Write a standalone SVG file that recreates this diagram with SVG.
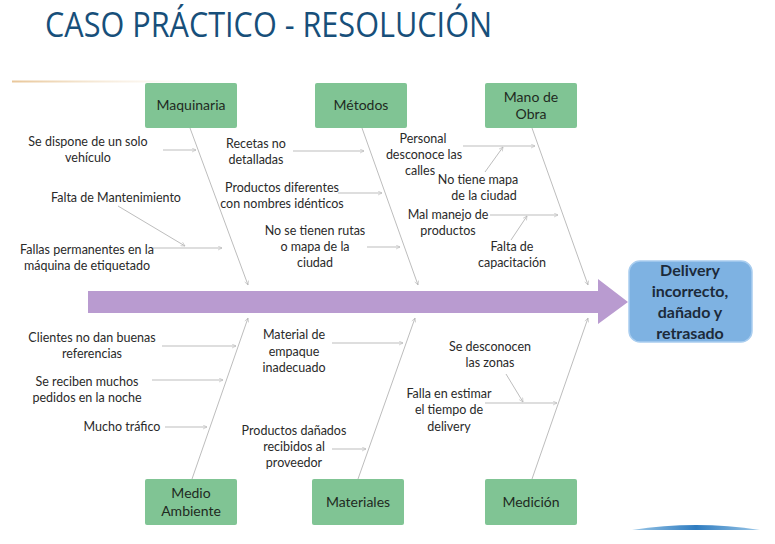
<svg xmlns="http://www.w3.org/2000/svg" width="775" height="544" viewBox="0 0 775 544">
<defs>
<marker id="ah" viewBox="0 0 10 10" refX="9" refY="5" markerWidth="5" markerHeight="5" orient="auto-start-reverse" markerUnits="userSpaceOnUse">
<path d="M1,1 L9,5 L1,9" fill="none" stroke="#b8b8b8" stroke-width="1.2"/>
</marker>
<linearGradient id="topline" x1="0" x2="1" y1="0" y2="0">
<stop offset="0" stop-color="#e9c79a"/>
<stop offset="0.3" stop-color="#f3e3cc"/>
<stop offset="1" stop-color="#ffffff" stop-opacity="0"/>
</linearGradient>
<linearGradient id="blueArc" x1="0" x2="1" y1="0" y2="0">
<stop offset="0" stop-color="#9cc8e8"/>
<stop offset="0.5" stop-color="#2f7cc0"/>
<stop offset="1" stop-color="#9cc8e8"/>
</linearGradient>
</defs>
<style>
.title{font-family:"Open Sans","Liberation Sans",sans-serif;font-size:35px;fill:#174f7a;}
.lbl{font-family:Lato,"Liberation Sans",sans-serif;font-size:12.5px;fill:#2a2a2a;text-anchor:middle;}
.box{fill:#80c494;}
.btxt{font-family:Lato,"Liberation Sans",sans-serif;font-size:14px;fill:#1f2a22;text-anchor:middle;}
.head{fill:#7eb2e2;stroke:#a9cdef;stroke-width:1.5;}
.htxt{font-family:Lato,"Liberation Sans",sans-serif;font-size:16px;font-weight:bold;fill:#1c2a3a;text-anchor:middle;}
.ln{stroke:#bdbdbd;stroke-width:1;fill:none;marker-end:url(#ah);}
</style>
<rect width="775" height="544" fill="#ffffff"/>
<text class="title" x="45" y="37" textLength="447" lengthAdjust="spacingAndGlyphs">CASO PRÁCTICO - RESOLUCIÓN</text>
<rect x="12" y="80.5" width="220" height="2" fill="url(#topline)"/>
<path d="M632,530 Q696,520 760,530 Z" fill="url(#blueArc)"/>

<g id="spine">
<polygon points="88,291 598,291 598,279 628,302 598,324 598,313 88,313" fill="#b99bd0"/>
</g>

<g id="connectors">
<line class="ln" x1="190" y1="128" x2="248" y2="285"/>
<line class="ln" x1="362" y1="128" x2="418" y2="285"/>
<line class="ln" x1="532" y1="128" x2="588" y2="285"/>
<line class="ln" x1="192" y1="479" x2="248" y2="318"/>
<line class="ln" x1="358" y1="479" x2="415" y2="318"/>
<line class="ln" x1="532" y1="479" x2="588" y2="318"/>
<line class="ln" x1="163" y1="150" x2="196" y2="150"/>
<line class="ln" x1="118" y1="206" x2="185" y2="246"/>
<line class="ln" x1="153" y1="248" x2="222" y2="248"/>
<line class="ln" x1="293" y1="151" x2="364" y2="151"/>
<line class="ln" x1="338" y1="193" x2="382" y2="193"/>
<line class="ln" x1="367" y1="247" x2="400" y2="247"/>
<line class="ln" x1="463" y1="146" x2="535" y2="146"/>
<line class="ln" x1="485" y1="172" x2="503" y2="147"/>
<line class="ln" x1="490" y1="215" x2="558" y2="215"/>
<line class="ln" x1="511" y1="240" x2="527" y2="216"/>
<line class="ln" x1="162" y1="346" x2="236" y2="346"/>
<line class="ln" x1="152" y1="380" x2="223" y2="380"/>
<line class="ln" x1="165" y1="427" x2="207" y2="427"/>
<line class="ln" x1="332" y1="343" x2="403" y2="343"/>
<line class="ln" x1="332" y1="449" x2="366" y2="449"/>
<line class="ln" x1="485" y1="403" x2="557" y2="403"/>
<line class="ln" x1="506" y1="374" x2="523" y2="402"/>
</g>

<g id="maquinaria"><rect class="box" x="145" y="83" width="92" height="45" rx="2"/><text class="btxt" x="191" y="110">Maquinaria</text></g>
<g id="metodos"><rect class="box" x="315" y="83" width="92" height="45" rx="2"/><text class="btxt" x="361" y="110">Métodos</text></g>
<g id="mano-de-obra"><rect class="box" x="485" y="83" width="92" height="45" rx="2"/><text class="btxt" x="531" y="102">Mano de</text><text class="btxt" x="531" y="119">Obra</text></g>
<g id="medio-ambiente"><rect class="box" x="145" y="479" width="92" height="46" rx="2"/><text class="btxt" x="191" y="498">Medio</text><text class="btxt" x="191" y="516">Ambiente</text></g>
<g id="materiales"><rect class="box" x="312" y="479" width="92" height="46" rx="2"/><text class="btxt" x="358" y="507">Materiales</text></g>
<g id="medicion"><rect class="box" x="485" y="479" width="92" height="46" rx="2"/><text class="btxt" x="531" y="507">Medición</text></g>

<g id="efecto"><rect class="head" x="629" y="261" width="123" height="81" rx="11"/>
<text class="htxt" x="690" y="276">Delivery</text>
<text class="htxt" x="690" y="297">incorrecto,</text>
<text class="htxt" x="690" y="318">dañado y</text>
<text class="htxt" x="690" y="339">retrasado</text></g>

<g id="causas-maquinaria">
<text class="lbl" x="88" y="146">Se dispone de un solo</text>
<text class="lbl" x="88" y="162">vehículo</text>
<text class="lbl" x="116" y="202">Falta de Mantenimiento</text>
<text class="lbl" x="87" y="254">Fallas permanentes en la</text>
<text class="lbl" x="87" y="270">máquina de etiquetado</text>
</g>
<g id="causas-metodos">
<text class="lbl" x="256" y="148">Recetas no</text>
<text class="lbl" x="256" y="164">detalladas</text>
<text class="lbl" x="282" y="192">Productos diferentes</text>
<text class="lbl" x="282" y="208">con nombres idénticos</text>
<text class="lbl" x="315" y="235">No se tienen rutas</text>
<text class="lbl" x="315" y="251">o mapa de la</text>
<text class="lbl" x="315" y="267">ciudad</text>
</g>
<g id="causas-mano-de-obra">
<text class="lbl" x="423" y="143">Personal</text>
<text class="lbl" x="424" y="159">desconoce las</text>
<text class="lbl" x="420" y="175">calles</text>
<text class="lbl" x="478" y="184">No tiene mapa</text>
<text class="lbl" x="484" y="200">de la ciudad</text>
<text class="lbl" x="448" y="219">Mal manejo de</text>
<text class="lbl" x="448" y="235">productos</text>
<text class="lbl" x="512" y="251">Falta de</text>
<text class="lbl" x="512" y="267">capacitación</text>
</g>
<g id="causas-medio-ambiente">
<text class="lbl" x="92" y="342">Clientes no dan buenas</text>
<text class="lbl" x="92" y="358">referencias</text>
<text class="lbl" x="87" y="386">Se reciben muchos</text>
<text class="lbl" x="87" y="402">pedidos en la noche</text>
<text class="lbl" x="122" y="431">Mucho tráfico</text>
</g>
<g id="causas-materiales">
<text class="lbl" x="294" y="339">Material de</text>
<text class="lbl" x="294" y="356">empaque</text>
<text class="lbl" x="294" y="372">inadecuado</text>
<text class="lbl" x="294" y="435">Productos dañados</text>
<text class="lbl" x="294" y="451">recibidos al</text>
<text class="lbl" x="294" y="467">proveedor</text>
</g>
<g id="causas-medicion">
<text class="lbl" x="490" y="351">Se desconocen</text>
<text class="lbl" x="490" y="367">las zonas</text>
<text class="lbl" x="449" y="398">Falla en estimar</text>
<text class="lbl" x="449" y="414">el tiempo de</text>
<text class="lbl" x="449" y="431">delivery</text>
</g>
</svg>
